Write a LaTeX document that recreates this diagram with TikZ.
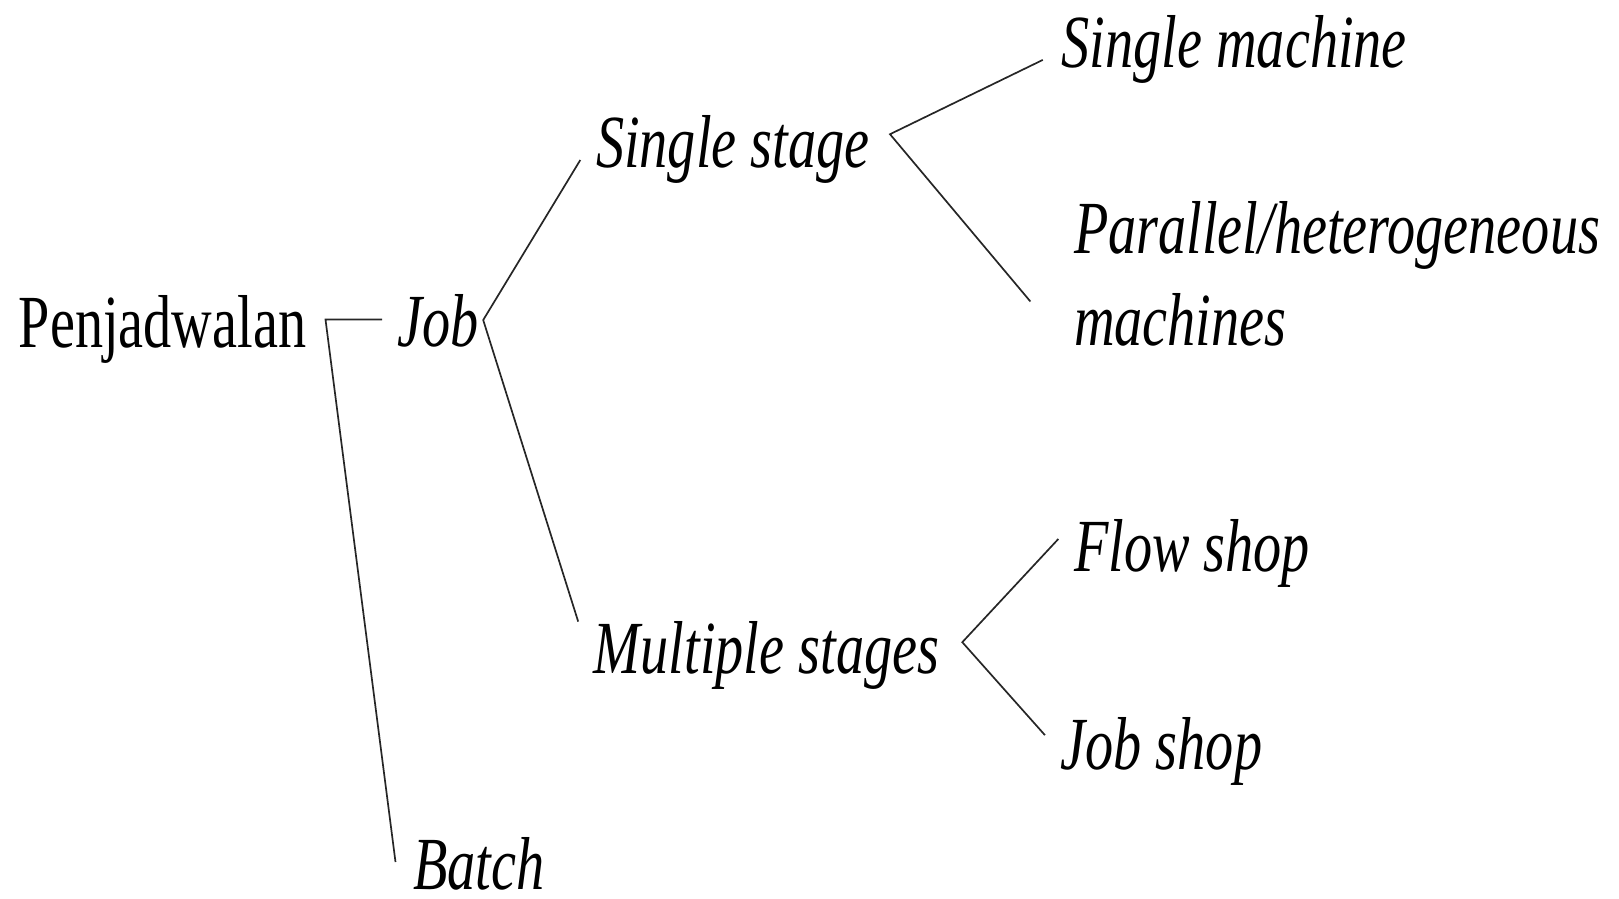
\documentclass[tikz,border=0pt]{standalone}
\usepackage{fontspec}
\setmainfont[FakeStretch=0.75]{Liberation Serif}
\begin{document}
\begin{tikzpicture}[x=1pt,y=-1pt,
  lbl/.style={anchor=base west,inner sep=0pt,font=\fontsize{75}{86}\selectfont\itshape},
  root/.style={anchor=base west,inner sep=0pt,font=\fontsize{75}{86}\selectfont},
  conn/.style={line width=1.7pt,black!85}]
\useasboundingbox (0,0) rectangle (1619,898);
\node[root] (pen) at (18.6,347) {Penjadwalan};
\node[lbl] (job) at (397.5,346) {Job};
\node[lbl] (batch) at (413,889) {Batch};
\node[lbl] (ss) at (595.8,167.3) {Single stage};
\node[lbl] (ms) at (593.7,673.2) {Multiple stages};
\node[lbl] (sm) at (1061.4,67.1) {Single machine};
\node[lbl] (ph) at (1073.8,253) {Parallel/heterogeneous};
\node[lbl] (phm) at (1073.8,345.9) {machines};
\node[lbl] (fs) at (1073.8,571) {Flow shop};
\node[lbl] (js) at (1060.4,769.2) {Job shop};
% junction points
\coordinate (c0) at (325.5,319.5);
\coordinate (c0j) at (382,319.5);
\coordinate (c0b) at (395.5,862);
\coordinate (c1) at (483.2,320);
\coordinate (c1s) at (580.3,160);
\coordinate (c1m) at (578.2,621.6);
\coordinate (c2) at (890,134.2);
\coordinate (c2s) at (1042.8,59.9);
\coordinate (c2p) at (1030.4,301.5);
\coordinate (c3) at (962.3,642.2);
\coordinate (c3f) at (1058.3,539);
\coordinate (c3j) at (1044.9,735.1);
\draw[conn] (c0j) -- (c0) -- (c0b);
\draw[conn] (c1s) -- (c1) -- (c1m);
\draw[conn] (c2s) -- (c2) -- (c2p);
\draw[conn] (c3f) -- (c3) -- (c3j);
\end{tikzpicture}
\end{document}
